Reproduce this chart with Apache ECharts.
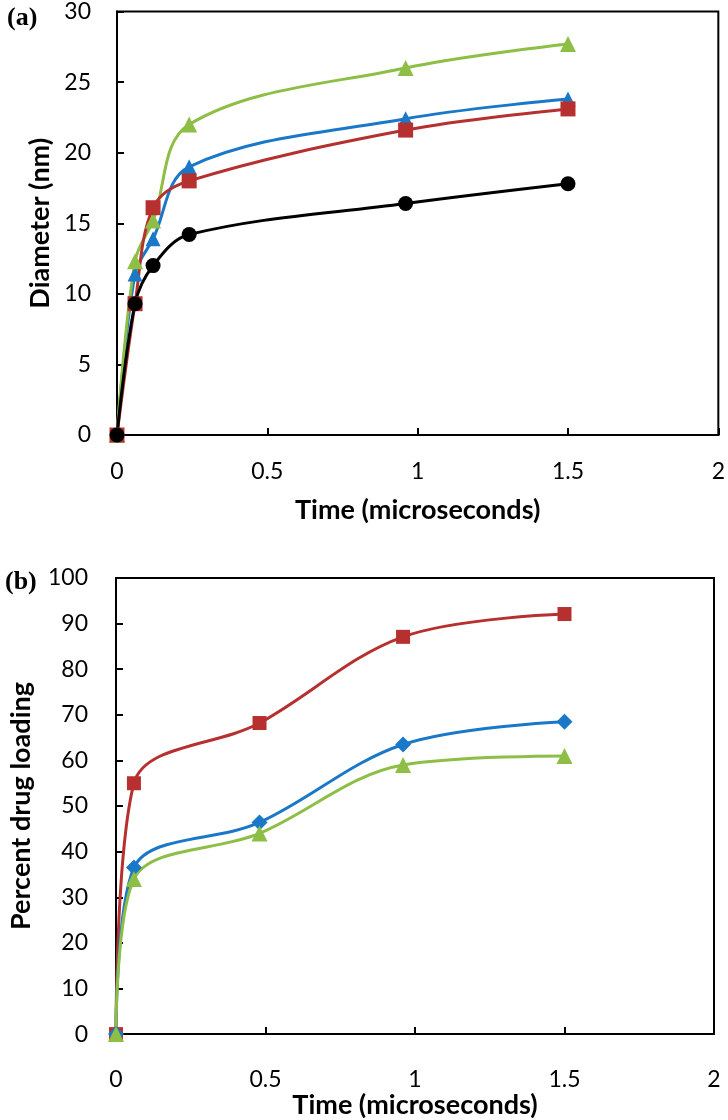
<!DOCTYPE html>
<html>
<head>
<meta charset="utf-8">
<script src="https://cdn.jsdelivr.net/npm/echarts@6/dist/echarts.min.js"></script>
<style>
  html, body { margin: 0; padding: 0; background: #fff; }
  #main { width: 728px; height: 1120px; }
</style>
</head>
<body>
<div id="main"></div>
<script>
// panel (a): diameter vs time
var timeA = [0, 0.06, 0.12, 0.24, 0.96, 1.5];
var diamBlack = [0, 9.3, 12.0, 14.2, 16.4, 17.8];
var diamRed = [0, 9.3, 16.1, 18.0, 21.6, 23.1];
var diamBlue = [0, 11.4, 13.9, 19.0, 22.4, 23.8];
var diamGreen = [0, 12.3, 15.2, 22.0, 26.0, 27.7];

// panel (b): percent drug loading vs time
var timeB = [0, 0.06, 0.48, 0.96, 1.5];
var loadRed = [0, 55.0, 68.2, 87.1, 92.1];
var loadBlue = [0, 36.5, 46.4, 63.5, 68.5];
var loadGreen = [0, 34.0, 44.0, 59.0, 61.0];

var red = '#B5302E', blue = '#1A78C8', green = '#8DBE45', black = '#000';
var labelFont = 'Lato';

function pairs(xs, ys) {
	return xs.map(function (x, i) { return [x, ys[i]]; });
}

function line(name, xs, ys, color, symbol, size, idx) {
	return {
		name: name,
		type: 'line',
		xAxisIndex: idx,
		yAxisIndex: idx,
		data: pairs(xs, ys),
		smooth: 0.35,
		symbol: symbol,
		symbolSize: size,
		showAllSymbol: true,
		lineStyle: { color: color, width: 3 },
		itemStyle: { color: color, borderWidth: 0 }
	};
}

function xAxisCfg(idx, margin, nameGap) {
	return {
		type: 'value', gridIndex: idx,
		min: 0, max: 2, interval: 0.5,
		name: 'Time (microseconds)',
		nameLocation: 'middle',
		nameGap: nameGap,
		nameTextStyle: { fontFamily: labelFont, fontWeight: 'bold', fontSize: 27, color: '#000' },
		axisLine: { show: true, onZero: false, lineStyle: { color: '#000', width: 2 } },
		axisTick: { show: true, inside: true, length: 7, lineStyle: { color: '#000', width: 2 } },
		axisLabel: { fontFamily: labelFont, fontSize: 23, color: '#000', margin: margin },
		splitLine: { show: false }
	};
}

function yAxisCfg(idx, max, interval, name, nameGap, margin) {
	return {
		type: 'value', gridIndex: idx,
		min: 0, max: max, interval: interval,
		name: name,
		nameLocation: 'middle',
		nameGap: nameGap,
		nameTextStyle: { fontFamily: labelFont, fontWeight: 'bold', fontSize: 27, color: '#000' },
		axisLine: { show: true, lineStyle: { color: '#000', width: 2 } },
		axisTick: { show: true, inside: true, length: 7, lineStyle: { color: '#000', width: 2 } },
		axisLabel: { fontFamily: labelFont, fontSize: 23, color: '#000', margin: margin },
		splitLine: { show: false }
	};
}

var myChart = echarts.init(document.getElementById('main'));
myChart.setOption({
	animation: false,
	backgroundColor: '#fff',
	title: [
		{ text: '(a)', left: 2, top: 0, textStyle: { fontFamily: 'Liberation Serif', fontWeight: 'bold', fontSize: 26, color: '#000' } },
		{ text: '(b)', left: 0, top: 564, textStyle: { fontFamily: 'Liberation Serif', fontWeight: 'bold', fontSize: 26, color: '#000' } }
	],
	grid: [
		{ left: 117, top: 10, width: 605, height: 425, show: true, borderColor: '#000', borderWidth: 2 },
		{ left: 114, top: 578, width: 600, height: 457, show: true, borderColor: '#000', borderWidth: 2 }
	],
	xAxis: [xAxisCfg(0, 25, 62), xAxisCfg(1, 34, 54)],
	yAxis: [
		yAxisCfg(0, 30, 5, 'Diameter (nm)', 59, 26),
		yAxisCfg(1, 100, 10, 'Percent drug loading', 81, 28)
	],
	series: [
		line('blue-a', timeA, diamBlue, blue, 'triangle', 15, 0),
		line('green-a', timeA, diamGreen, green, 'triangle', 16, 0),
		line('red-a', timeA, diamRed, red, 'rect', 15, 0),
		line('black-a', timeA, diamBlack, black, 'circle', 15, 0),
		line('red-b', timeB, loadRed, red, 'rect', 14, 1),
		line('blue-b', timeB, loadBlue, blue, 'diamond', 16, 1),
		line('green-b', timeB, loadGreen, green, 'triangle', 16, 1)
	]
});
</script>
</body>
</html>
